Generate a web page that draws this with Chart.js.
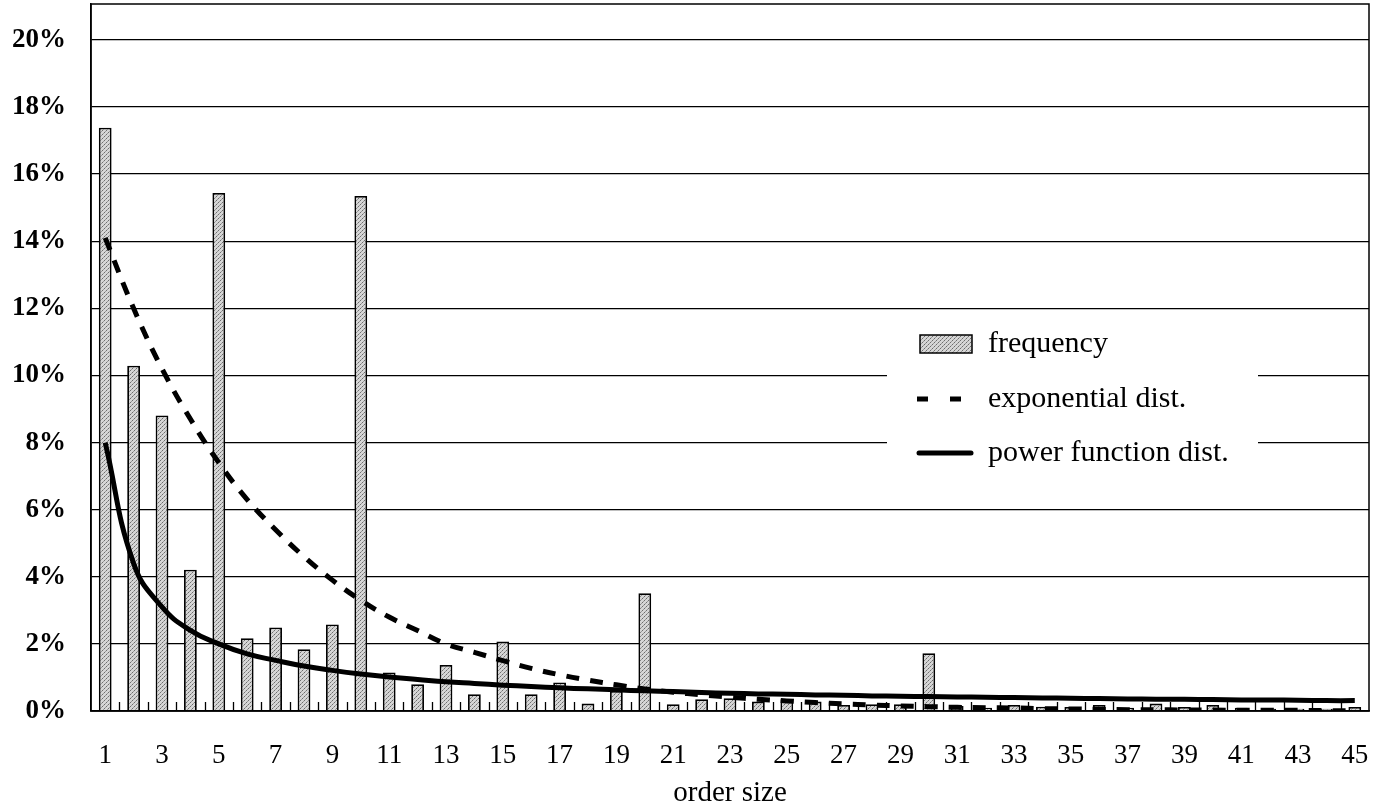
<!DOCTYPE html>
<html>
<head>
<meta charset="utf-8">
<script src="https://cdn.jsdelivr.net/npm/chart.js@4.4.1/dist/chart.umd.min.js"></script>
<style>
  html, body { margin: 0; padding: 0; background: #fff; }
</style>
</head>
<body>
<canvas id="myChart" width="1375" height="811"></canvas>
<script>
const orderSizes = ["1","2","3","4","5","6","7","8","9","10","11","12","13","14","15",
  "16","17","18","19","20","21","22","23","24","25","26","27","28","29","30",
  "31","32","33","34","35","36","37","38","39","40","41","42","43","44","45"];

// percentages
const frequency = [17.38, 10.29, 8.81, 4.21, 15.44, 2.17, 2.49, 1.84, 2.58, 15.35,
  1.15, 0.80, 1.37, 0.50, 2.07, 0.50, 0.85, 0.22, 0.60, 3.51,
  0.20, 0.35, 0.38, 0.28, 0.35, 0.28, 0.18, 0.20, 0.20, 1.72,
  0.15, 0.10, 0.18, 0.13, 0.12, 0.18, 0.10, 0.22, 0.12, 0.18,
  0.10, 0.07, 0.07, 0.07, 0.12];

const exponentialDist = [14.1, 12.0, 10.2, 8.7, 7.4, 6.3, 5.4, 4.6, 3.9, 3.3,
  2.8, 2.4, 2.0, 1.75, 1.5, 1.27, 1.08, 0.92, 0.78, 0.66,
  0.56, 0.48, 0.41, 0.35, 0.30, 0.25, 0.21, 0.18, 0.15, 0.13,
  0.11, 0.10, 0.09, 0.07, 0.06, 0.05, 0.04, 0.04, 0.03, 0.03,
  0.02, 0.02, 0.02, 0.01, 0.01];

const powerDist = [8.0, 4.4, 3.1, 2.4, 2.0, 1.7, 1.51, 1.34, 1.21, 1.1,
  1.01, 0.94, 0.87, 0.82, 0.77, 0.73, 0.69, 0.66, 0.63, 0.60,
  0.58, 0.55, 0.53, 0.51, 0.50, 0.48, 0.47, 0.45, 0.44, 0.43,
  0.42, 0.41, 0.40, 0.39, 0.38, 0.37, 0.36, 0.35, 0.35, 0.34,
  0.33, 0.33, 0.32, 0.31, 0.31];

const yTop = 21.07;   // frame sits a little above the 20% line
const serif = "'Liberation Serif', 'Times New Roman', serif";

const chartDOM = document.getElementById("myChart");
const ctx = chartDOM.getContext("2d");

function hatchPattern() {
  const c = document.createElement("canvas");
  c.width = 4;
  c.height = 4;
  const g = c.getContext("2d");
  g.fillStyle = "#d6d6d6";
  g.fillRect(0, 0, 4, 4);
  g.fillStyle = "#6e6e6e";
  g.fillRect(0, 0, 1, 1);
  g.fillRect(2, 2, 1, 1);
  g.fillStyle = "#9a9a9a";
  g.fillRect(1, 3, 1, 1);
  g.fillRect(3, 1, 1, 1);
  return ctx.createPattern(c, "repeat");
}
const hatch = hatchPattern();

const framePlugin = {
  id: "frame",
  afterDatasetsDraw(chart) {
    const { ctx, chartArea } = chart;
    const xs = chart.scales.x;
    ctx.save();
    ctx.strokeStyle = "#000";
    ctx.lineWidth = 1.5;
    ctx.strokeRect(chartArea.left, chartArea.top, chartArea.right - chartArea.left, chartArea.bottom - chartArea.top);

    // small tick marks between categories, pointing up into the plot
    ctx.lineWidth = 1.3;
    ctx.beginPath();
    for (let i = 0; i < orderSizes.length - 1; i++) {
      const x = Math.round((xs.getPixelForValue(i) + xs.getPixelForValue(i + 1)) / 2) + 0.5;
      ctx.moveTo(x, chartArea.bottom);
      ctx.lineTo(x, chartArea.bottom - 9);
    }
    ctx.stroke();

    // legend box
    const ds = chart.data.datasets;
    ctx.fillStyle = "#fff";
    ctx.fillRect(887, 318, 371, 164);

    ctx.fillStyle = hatch;
    ctx.fillRect(920, 335, 52, 18);
    ctx.lineWidth = 1.5;
    ctx.strokeRect(920, 335, 52, 18);

    ctx.lineWidth = 5;
    ctx.setLineDash([11, 22]);
    ctx.beginPath();
    ctx.moveTo(917, 399);
    ctx.lineTo(970, 399);
    ctx.stroke();
    ctx.setLineDash([]);

    ctx.lineCap = "round";
    ctx.beginPath();
    ctx.moveTo(919, 453);
    ctx.lineTo(971, 453);
    ctx.stroke();

    ctx.fillStyle = "#000";
    ctx.font = "30px " + serif;
    ctx.textBaseline = "middle";
    ctx.fillText(ds[0].label, 988, 344);
    ctx.fillText(ds[1].label, 988, 399);
    ctx.fillText(ds[2].label, 988, 453);
    ctx.restore();
  }
};

new Chart(chartDOM, {
  type: "bar",
  data: {
    labels: orderSizes,
    datasets: [
      {
        label: "frequency",
        data: frequency,
        backgroundColor: hatch,
        borderColor: "#000",
        borderWidth: 1.8,
        barPercentage: 0.45,
        categoryPercentage: 1,
        order: 3
      },
      {
        type: "line",
        label: "exponential dist.",
        data: exponentialDist,
        borderColor: "#000",
        borderWidth: 5,
        borderDash: [13, 11],
        pointRadius: 0,
        tension: 0.4,
        fill: false,
        order: 2
      },
      {
        type: "line",
        label: "power function dist.",
        data: powerDist,
        borderColor: "#000",
        borderWidth: 5,
        pointRadius: 0,
        tension: 0.45,
        fill: false,
        order: 1
      }
    ]
  },
  options: {
    responsive: false,
    animation: false,
    devicePixelRatio: 1,
    layout: { padding: { top: 4, right: 6, left: 0, bottom: 0 } },
    plugins: {
      legend: { display: false },
      tooltip: { enabled: false }
    },
    scales: {
      x: {
        grid: { display: false },
        border: { display: true, color: "#000", width: 1.5 },
        ticks: {
          autoSkip: false,
          maxRotation: 0,
          padding: 21,
          color: "#000",
          font: { family: serif, size: 27 },
          callback: function (v, i) { return i % 2 === 0 ? orderSizes[i] : ""; }
        },
        title: {
          display: true,
          text: "order size",
          color: "#000",
          font: { family: serif, size: 29 },
          padding: { top: 0, bottom: 0 }
        },
        afterFit(scale) {
          scale.height = 100;
          scale.paddingLeft = 0;
          scale.paddingRight = 0;
        }
      },
      y: {
        min: 0,
        max: yTop,
        grid: { color: "#000", lineWidth: 1.3, drawTicks: false },
        border: { display: true, color: "#000", width: 1.5 },
        ticks: {
          stepSize: 2,
          padding: 25,
          color: "#000",
          font: { family: serif, size: 27, weight: "bold" },
          callback: function (v) { return v + "%"; }
        },
        afterBuildTicks(scale) {
          scale.ticks = scale.ticks.filter(t => t.value <= 20 && t.value % 2 === 0);
        },
        afterFit(scale) {
          scale.width = 91;
          scale.paddingTop = 0;
          scale.paddingBottom = 0;
        }
      }
    }
  },
  plugins: [framePlugin]
});
</script>
</body>
</html>
